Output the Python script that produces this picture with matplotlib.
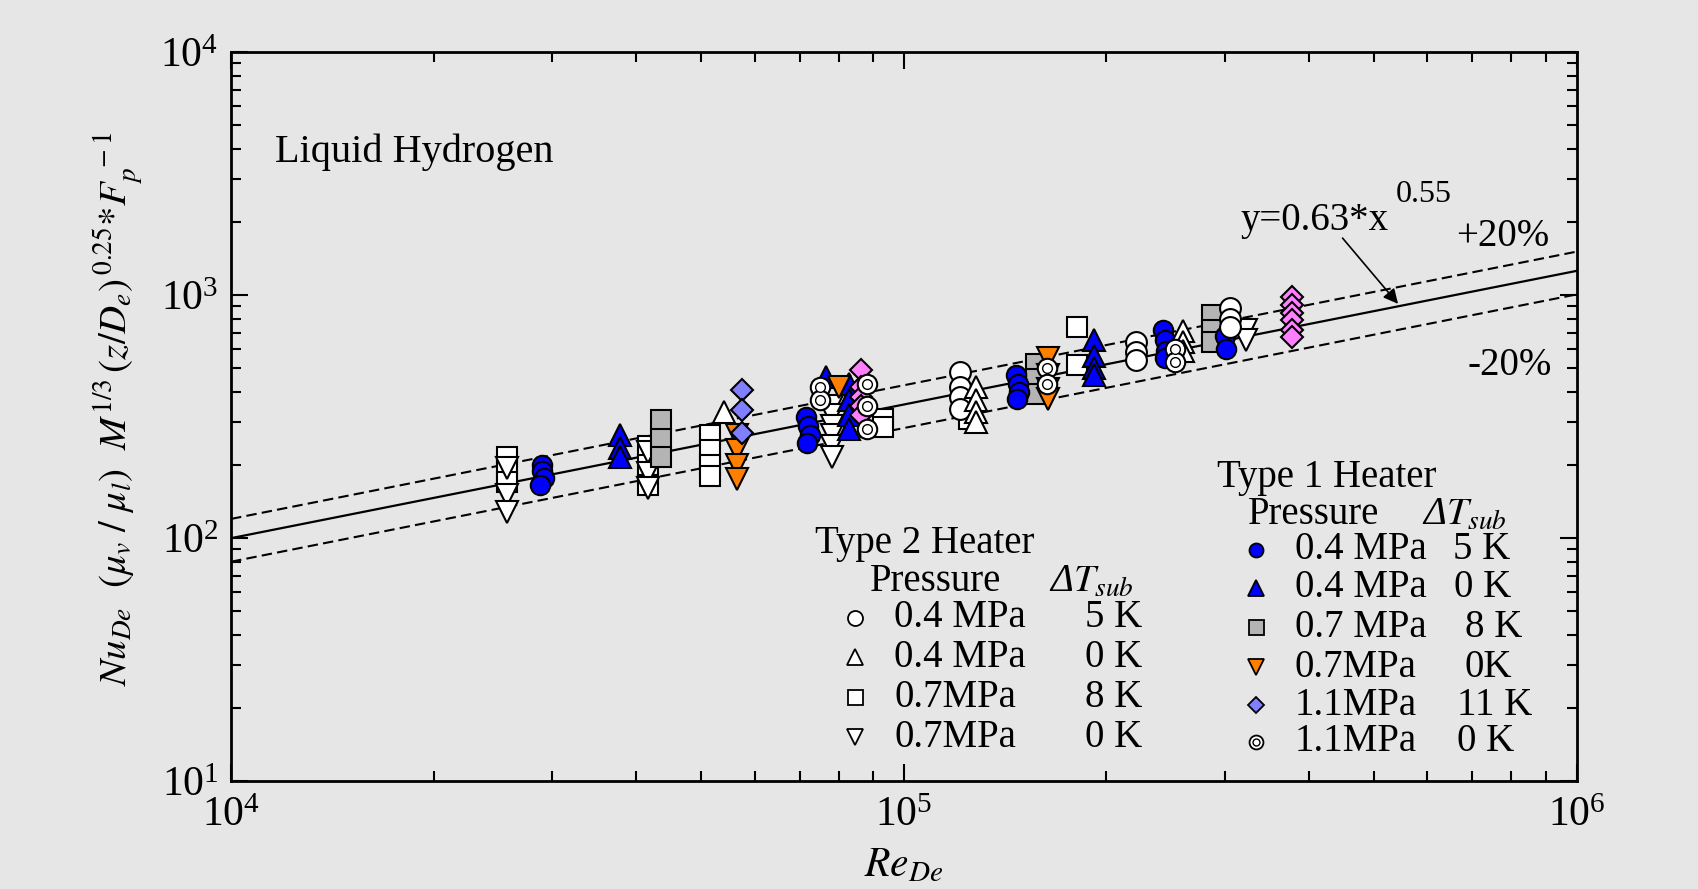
import matplotlib
matplotlib.use('Agg')
import matplotlib.pyplot as plt
import numpy as np

plt.rcParams['font.family'] = ['Liberation Serif', 'DejaVu Serif']
plt.rcParams['mathtext.fontset'] = 'stix'

# correlation Nu = 0.63 * Re^0.55 and the +-20 % band
fit_c = 0.63
fit_n = 0.55
band = 0.20
re_range = [1e4, 1e6]

# Type 1 heater (filled symbols)
t1_a_re = [29000, 29000, 29200, 28800, 71500, 72000, 72500, 71800, 147000, 148000, 148500, 147500,
           243000, 244000, 245000, 244000, 300000, 301000]
t1_a_nu = [200, 188, 176, 165, 315, 290, 265, 245, 470, 430, 400, 375, 720, 650, 590, 550, 680, 600]

t1_b_re = [37800, 37800, 37800, 76500, 83000, 83000, 83000, 83000, 192000, 192000, 192000, 192000]
t1_b_nu = [265, 235, 215, 460, 430, 370, 320, 280, 650, 560, 500, 470]

t1_c_re = [43600, 43600, 43600, 157000, 157000, 157000, 287000, 287000, 287000]
t1_c_nu = [305, 255, 215, 520, 450, 390, 830, 720, 640]

t1_d_re = [56500, 56500, 56500, 56500, 80000, 164000, 164000, 164000, 164000]
t1_d_nu = [265, 230, 200, 175, 420, 550, 470, 410, 375]

t1_e_re = [57500, 57500, 57500]
t1_e_nu = [405, 335, 270]

t1_f_re = [75000, 75000, 88000, 88000, 88000, 163000, 163000, 253000, 253000]
t1_f_nu = [420, 370, 430, 350, 280, 500, 430, 600, 530]

# pink diamonds (not in the legend)
pk_re = [86500, 86500, 86500, 86500, 86500, 378000, 378000, 378000, 378000, 378000, 378000]
pk_nu = [490, 420, 380, 350, 320, 980, 910, 845, 790, 720, 670]

# Type 2 heater (open symbols)
t2_a_re = [121000, 121000, 121000, 121000, 221000, 221000, 221000, 305000, 305000, 305000]
t2_a_nu = [480, 420, 380, 340, 640, 580, 540, 880, 800, 740]

t2_b_re = [54000, 128000, 128000, 128000, 128000, 260000, 260000, 260000]
t2_b_nu = [330, 420, 370, 330, 300, 710, 640, 590]

t2_c_re = [25700, 25700, 25700, 41700, 41700, 41700, 51500, 51500, 51500, 51500,
           93000, 93000, 125000, 125000, 181000, 181000]
t2_c_nu = [215, 190, 170, 240, 200, 165, 265, 230, 200, 180, 310, 285, 340, 310, 735, 515]

t2_d_re = [25700, 25700, 25700, 41700, 41700, 41700, 78300, 78300, 78300, 78300, 78300, 78300,
           323000, 323000]
t2_d_nu = [195, 150, 128, 225, 185, 160, 350, 320, 290, 265, 240, 215, 720, 650]

t1_pressure = ['0.4 MPa', '0.4 MPa', '0.7 MPa', '0.7MPa', '1.1MPa', '1.1MPa']
t1_dt = ['5 K', '0 K', '8 K', '0K', '11 K', '0 K']
t2_pressure = ['0.4 MPa', '0.4 MPa', '0.7MPa', '0.7MPa']
t2_dt = ['5 K', '0 K', '8 K', '0 K']

bg = '#e6e6e6'
blue = '#0000ff'
gray = '#b4b4b4'
orange = '#ff8000'
lav = '#8080ff'
pink = '#ff80ff'

fig = plt.figure(figsize=(16.99, 8.89), dpi=100, facecolor=bg)
ax = fig.add_axes([0.136, 0.1215, 0.792, 0.82], facecolor=bg)
ax.set_xscale('log')
ax.set_yscale('log')
ax.set_xlim(1e4, 1e6)
ax.set_ylim(10, 1e4)

re_fit = np.array(re_range)
nu_fit = fit_c * re_fit ** fit_n
ax.plot(re_fit, nu_fit, color='k', lw=1.6, zorder=2)
ax.plot(re_fit, nu_fit * (1 + band), color='k', lw=1.5, ls=(0, (5, 2.5)), zorder=2)
ax.plot(re_fit, nu_fit * (1 - band), color='k', lw=1.5, ls=(0, (5, 2.5)), zorder=2)

ew = 1.5
styles = {
    't2_c': dict(marker='s', ms=15, mfc='white'),
    't2_d': dict(marker='v', ms=16, mfc='white'),
    't2_a': dict(marker='o', ms=15, mfc='white'),
    't2_b': dict(marker='^', ms=16, mfc='white'),
    't1_a': dict(marker='o', ms=14, mfc=blue),
    't1_b': dict(marker='^', ms=16, mfc=blue),
    't1_c': dict(marker='s', ms=15, mfc=gray),
    't1_d': dict(marker='v', ms=16, mfc=orange),
    't1_e': dict(marker='D', ms=11, mfc=lav),
    'pk': dict(marker='D', ms=11, mfc=pink),
}
series = [('t2_c', t2_c_re, t2_c_nu), ('t2_d', t2_d_re, t2_d_nu), ('t1_c', t1_c_re, t1_c_nu),
          ('t1_a', t1_a_re, t1_a_nu), ('t1_b', t1_b_re, t1_b_nu), ('t1_d', t1_d_re, t1_d_nu),
          ('t1_e', t1_e_re, t1_e_nu), ('t2_a', t2_a_re, t2_a_nu), ('t2_b', t2_b_re, t2_b_nu),
          ('pk', pk_re, pk_nu)]
for key, xs, ys in series:
    ax.plot(xs, ys, ls='none', mec='k', mew=ew, zorder=3, **styles[key])
# 1.1 MPa 0 K : circle with an inner ring
ax.plot(t1_f_re, t1_f_nu, ls='none', marker='o', ms=14, mfc='white', mec='k', mew=ew, zorder=4)
ax.plot(t1_f_re, t1_f_nu, ls='none', marker='o', ms=7, mfc='white', mec='k', mew=1.0, zorder=4)

# annotation of the fit
x_tip = 5.46e5
ax.annotate('', xy=(x_tip, fit_c * x_tip ** fit_n), xytext=(4.46e5, 1750),
            arrowprops=dict(arrowstyle='-|>', color='k', lw=1.2, mutation_scale=22))
ax.text(3.17e5, 1850, 'y=0.63*x', fontsize=28, va='baseline')
ax.text(5.38e5, 2250, '0.55', fontsize=23, va='bottom')
ax.text(6.61e5, 1734, '+20%', fontsize=28, va='center')
ax.text(6.89e5, 515, '-20%', fontsize=28, va='center')
ax.text(0.033, 0.863, 'Liquid Hydrogen', fontsize=29, va='center', transform=ax.transAxes)

# hand made legends
tr = ax.transAxes
fs = 28
dt_head = r'Δ$T_{sub}$'
ax.text(0.434, 0.326, 'Type 2 Heater', fontsize=fs, va='center', transform=tr)
ax.text(0.475, 0.273, 'Pressure', fontsize=fs, va='center', transform=tr)
ax.text(0.608, 0.273, dt_head, fontsize=fs, va='center', style='italic', transform=tr)
t2_rows = [0.2236, 0.170, 0.115, 0.060]
t2_keys = ['t2_a', 't2_b', 't2_c', 't2_d']
for yy, key, p, dt in zip(t2_rows, t2_keys, t2_pressure, t2_dt):
    st = dict(styles[key])
    st['ms'] = st['ms'] * 0.72
    ax.plot([0.4636], [yy], ls='none', mec='k', mew=1.3, transform=tr, clip_on=False, **st)
    ax.text(0.493, yy, p, fontsize=fs, va='center', transform=tr)
    ax.text(0.677, yy, dt, fontsize=fs, va='center', ha='right', transform=tr)

ax.text(0.7325, 0.417, 'Type 1 Heater', fontsize=fs, va='center', transform=tr)
ax.text(0.7556, 0.365, 'Pressure', fontsize=fs, va='center', transform=tr)
ax.text(0.8848, 0.365, dt_head, fontsize=fs, va='center', style='italic', transform=tr)
t1_rows = [0.317, 0.265, 0.211, 0.156, 0.104, 0.0535]
t1_dt_x = [0.908, 0.909, 0.917, 0.917, 0.911, 0.911]
t1_keys = ['t1_a', 't1_b', 't1_c', 't1_d', 't1_e', 't1_f']
for yy, key, p, dt, xd in zip(t1_rows, t1_keys, t1_pressure, t1_dt, t1_dt_x):
    if key == 't1_f':
        ax.plot([0.7615], [yy], ls='none', marker='o', ms=10, mfc='white', mec='k', mew=1.3,
                transform=tr, clip_on=False)
        ax.plot([0.7615], [yy], ls='none', marker='o', ms=5, mfc='white', mec='k', mew=1.0,
                transform=tr, clip_on=False)
    else:
        st = dict(styles[key])
        st['ms'] = st['ms'] * 0.72
        ax.plot([0.7615], [yy], ls='none', mec='k', mew=1.3, transform=tr, clip_on=False, **st)
    ax.text(0.7905, yy, p, fontsize=fs, va='center', transform=tr)
    ax.text(xd, yy, dt, fontsize=fs, va='center', transform=tr)

ax.set_xlabel(r'$Re_{De}$', fontsize=30)
ax.xaxis.set_label_coords(0.5, -0.09)
ax.set_ylabel(r'$Nu_{De}\ \ (\mu_v\ /\ \mu_l)\ \ M^{1/3}\,(z/D_e)^{\,0.25}{*}F_p^{\ -1}$', fontsize=28)
ax.yaxis.set_label_coords(-0.063, 0.51)

ax.tick_params(which='both', direction='in', top=True, right=True, width=1.5)
ax.tick_params(which='major', length=12, labelsize=30)
ax.tick_params(axis='x', which='major', pad=11)
ax.tick_params(axis='y', which='major', pad=9)
ax.tick_params(which='minor', length=7)
for sp in ax.spines.values():
    sp.set_linewidth(2)

fig.savefig('out.png', dpi=100, facecolor=bg)
